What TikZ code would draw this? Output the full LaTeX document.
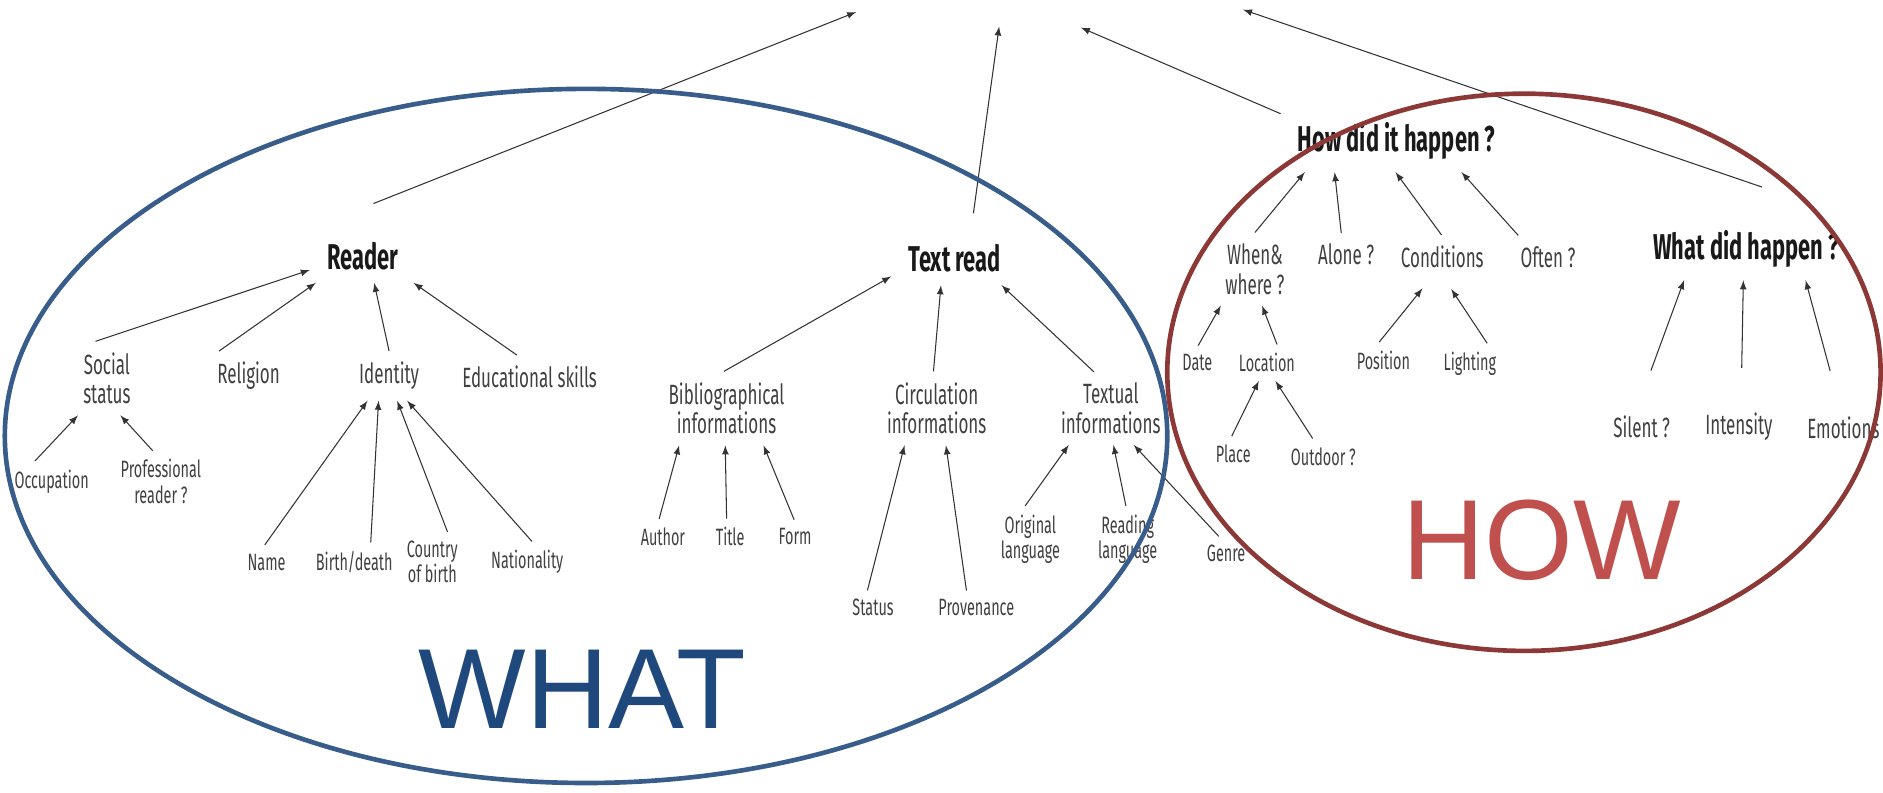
\documentclass[tikz,border=0pt]{standalone}
\usepackage{fontspec}
\setmainfont[FakeStretch=0.61]{Fira Sans}
\newfontfamily\bigfont{Liberation Sans}
\usetikzlibrary{arrows}

\definecolor{whatblue}{HTML}{1F497D}
\definecolor{whatline}{HTML}{385D8A}
\definecolor{howred}{HTML}{C0504D}
\definecolor{howline}{HTML}{8C3836}

\tikzset{
	head/.style={font=\fontsize{17}{19}\selectfont\bfseries, text=black!90, inner xsep=8pt, inner ysep=6pt},
	item/.style={font=\fontsize{13.2}{14.2}\selectfont, text=black!75, align=center, inner xsep=3pt, inner ysep=5pt},
	leaf/.style={font=\fontsize{11.2}{12}\selectfont, text=black!75, align=center, inner xsep=3pt, inner ysep=4pt},
	link/.style={->, >=latex, draw=black!80, line width=0.5pt},
	bigword/.style={font=\bigfont\fontsize{54}{60}\selectfont, inner sep=0pt},
}

\begin{document}
\begin{tikzpicture}[x=0.2mm, y=-0.2mm]
\useasboundingbox (0,0) rectangle (1568,660);

% the four questions
\node [head] (reader) at (302, 213) {Reader};
\node [head] (textread) at (795, 215) {Text read};
\node [head] (how) at (1163, 117) {How did it happen ?};
\node [head] (whatdid) at (1454, 207) {What did happen ?};

\coordinate (top1) at (713, 10);
\coordinate (top2) at (832, 22);
\coordinate (top3) at (900, 23);
\coordinate (top4) at (1035, 8);

\draw [link, shorten <=11.4mm] (reader.north west) -- (top1);
\draw [link, shorten <=3mm] (textread.59) -- (top2);
\draw [link] (how.167) -- (top3);
\draw [link, shorten <=15.4mm] (whatdid.17) -- (top4);

% reader
\node [item] (soc) at (89, 315) {Social\\status};
\node [item] (rel) at (207, 313) {Religion};
\node [item] (iden) at (324, 313) {Identity};
\node [item] (edu) at (441, 314) {Educational skills};
\node [leaf] (occ) at (43, 401) {Occupation};
\node [leaf] (prof) at (134, 401) {Professional\\reader ?};
\node [leaf] (name) at (222, 468) {Name};
\node [leaf] (birth) at (295, 468) {Birth/death};
\node [leaf] (country) at (360, 468) {Country\\of birth};
\node [leaf] (nat) at (439, 468) {Nationality};

\draw [link] (soc.107) -- (reader.195);
\draw [link] (rel.140) -- (reader.210);
\draw [link] (iden.north) -- (reader.293);
\draw [link] (edu.120) -- (reader.332);
\draw [link] (occ.129) -- (soc.232);
\draw [link] (prof.105) -- (soc.290);
\draw [link] (name.96) -- (iden.229);
\draw [link] (birth.50) -- (iden.247);
\draw [link] (country.63) -- (iden.288);
\draw [link] (nat.77) -- (iden.306);

% text read
\node [item] (bib) at (605, 340) {Bibliographical\\informations};
\node [item] (circ) at (780, 340) {Circulation\\informations};
\node [item] (textual) at (925, 340) {Textual\\informations};
\node [leaf] (author) at (552, 447) {Author};
\node [leaf] (title) at (608, 447) {Title};
\node [leaf] (form) at (662, 447) {Form};
\node [leaf] (status) at (727, 506) {Status};
\node [leaf] (prov) at (813, 506) {Provenance};
\node [leaf] (orig) at (858, 449) {Original\\language};
\node [leaf] (readl) at (939, 449) {Reading\\language};
\node [leaf] (genre) at (1021, 461) {Genre};

\draw [link] (bib.94) -- (textread.196);
\draw [link] (circ.95) -- (textread.243);
\draw [link] (textual.115) -- (textread.330);
\draw [link] (author.102) -- (bib.218);
\draw [link] (title.101) -- (bib.268);
\draw [link] (form.93) -- (bib.315);
\draw [link] (status.108) -- (circ.229);
\draw [link] (prov.120) -- (circ.284);
\draw [link] (orig.99) -- (textual.221);
\draw [link] (readl.93) -- (textual.274);
\draw [link] (genre.113) -- (textual.302);

% how did it happen
\node [item] (when) at (1045, 224) {When\&\\where ?};
\node [item] (alone) at (1121, 212) {Alone ?};
\node [item] (cond) at (1201, 214) {Conditions};
\node [item] (often) at (1289, 214) {Often ?};
\node [leaf] (date) at (997, 302) {Date};
\node [leaf] (loc) at (1055, 302) {Location};
\node [leaf] (place) at (1027, 378) {Place};
\node [leaf] (outd) at (1102, 380) {Outdoor ?};
\node [leaf] (pos) at (1152, 300) {Position};
\node [leaf] (light) at (1224, 303) {Lighting};

\draw [link] (when.north) -- (how.199);
\draw [link] (alone.103) -- (how.207);
\draw [link] (cond.92) -- (how.268);
\draw [link] (often.144) -- (how.334);
\draw [link] (date.87) -- (when.227);
\draw [link] (loc.61) -- (when.281);
\draw [link] (place.95) -- (loc.246);
\draw [link] (outd.121) -- (loc.295);
\draw [link, shorten >=2mm] (pos.103) -- (cond.241);
\draw [link, shorten >=2mm] (light.50) -- (cond.276);

% what did happen
\node [item] (silent) at (1367, 355) {Silent ?};
\node [item] (inten) at (1448, 355) {Intensity};
\node [item] (emot) at (1535, 356) {Emotions};

\draw [link, shorten <=6mm] (silent.98) -- (whatdid.207);
\draw [link, shorten <=5.6mm] (inten.85) -- (whatdid.265);
\draw [link, shorten <=6mm] (emot.100) -- (whatdid.332);

% the two groups
\draw [whatline, line width=2.2pt] (488, 363) ellipse [x radius=484, y radius=289];
\draw [howline, line width=2.2pt] (1269, 310) ellipse [x radius=297, y radius=232];
\node [bigword, text=whatblue] (what) at (485, 574) {WHAT};
\node [bigword, text=howred] (howword) at (1284, 450) {HOW};

\end{tikzpicture}
\end{document}
